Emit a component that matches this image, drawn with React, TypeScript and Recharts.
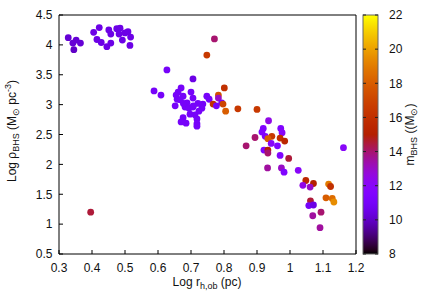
import { Scatter, ScatterChart, XAxis, YAxis } from "recharts";

// log r_h,ob (pc)
const logR = [
  0.328, 0.352, 0.342, 0.365, 0.345, 0.405, 0.422, 0.415, 0.428, 0.445, 0.457, 0.451, 0.457, 0.475, 0.485,
  0.482, 0.492, 0.5, 0.509, 0.517, 0.515,
  0.627, 0.706, 0.588, 0.609, 0.67, 0.661, 0.658, 0.676, 0.7, 0.706, 0.652, 0.688, 0.682, 0.706, 0.694,
  0.748, 0.755, 0.736, 0.733, 0.724, 0.712, 0.718, 0.718, 0.676, 0.67, 0.685, 0.718, 0.667, 0.655, 0.697,
  0.721, 0.707, 0.677,
  0.771, 0.748, 0.801, 0.783, 0.783, 0.793, 0.767, 0.777, 0.797, 0.805, 0.842, 0.9,
  0.935, 0.919, 0.915, 0.972, 0.976, 0.925, 0.945, 0.933, 0.97, 0.984, 0.894, 0.943, 0.962, 0.867, 0.921,
  0.933, 0.933, 0.97, 0.996, 1.162, 0.932, 0.974, 0.982, 1.025, 1.048, 1.071, 1.039, 1.061, 1.117, 1.123,
  1.062, 1.057, 1.071, 1.109, 1.128, 1.133, 1.094, 1.069, 1.091,
  0.396,
];

// log rho_BHS (Msun pc^-3)
const logRho = [
  4.12, 4.08, 4.03, 4.03, 3.92, 4.21, 4.29, 4.09, 4.04, 3.97, 4.03, 4.25, 4.18, 4.27, 4.28,
  4.18, 4.08, 4.2, 4.22, 4.13, 3.99,
  3.58, 3.43, 3.23, 3.16, 3.28, 3.21, 3.09, 3.14, 3.21, 3.11, 2.98, 3.03, 2.96, 2.96, 2.94,
  3.14, 3.09, 3.01, 2.94, 2.89, 2.83, 2.76, 2.68, 2.78, 2.71, 2.69, 2.64, 3.08, 3.16, 2.84,
  3.02, 2.98, 3.02,
  4.1, 3.83, 3.28, 3.16, 3.11, 3.03, 3.01, 2.98, 3.01, 2.89, 2.93, 2.92,
  2.73, 2.6, 2.54, 2.6, 2.53, 2.47, 2.47, 2.43, 2.44, 2.39, 2.45, 2.35, 2.31, 2.31, 2.24,
  2.24, 2.19, 2.15, 2.1, 2.28, 1.94, 1.94, 1.87, 1.9, 1.73, 1.68, 1.65, 1.62, 1.67, 1.63,
  1.39, 1.31, 1.32, 1.44, 1.43, 1.37, 1.2, 1.14, 0.94,
  1.2,
];

// m_BHS (Msun)
const mBHS = [
  10.2, 10.2, 10.2, 10.2, 10.0, 10.5, 10.5, 10.5, 10.5, 10.5, 10.5, 10.5, 10.5, 10.5, 10.5,
  10.5, 10.5, 10.5, 10.5, 10.5, 10.5,
  11, 10.5, 11, 11, 11, 11, 11, 11, 11, 11, 11, 11, 11, 11, 11,
  11, 11, 11, 11, 11, 11, 11, 11, 11, 11, 11, 11, 11, 11, 11,
  11, 11, 11,
  14, 16.5, 16, 17.5, 13, 11, 16, 11, 17, 18, 16.5, 16.5,
  12.5, 11.5, 11.5, 11.5, 12, 11.5, 16.5, 18, 16, 15.5, 14, 12, 11.5, 14, 11.5,
  15, 14, 11.5, 14.5, 12, 13.5, 13, 11.5, 12, 15.5, 15, 12.5, 13, 19, 16,
  14.5, 11, 10.5, 18, 18.5, 19.5, 14, 13.5, 13.5,
  14.5,
];

const xTicks = [0.3, 0.4, 0.5, 0.6, 0.7, 0.8, 0.9, 1, 1.1, 1.2];
const yTicks = [0.5, 1, 1.5, 2, 2.5, 3, 3.5, 4, 4.5];
const cbTicks = [8, 10, 12, 14, 16, 18, 20, 22];

const points = logR.map((x, i) => ({ x, y: logRho[i], m: mBHS[i] }));

// gnuplot default palette (rgbformulae 7,5,15) over cbrange [8:22]
const CB_MIN = 8;
const CB_MAX = 22;
function palette(m: number) {
  const f = Math.min(1, Math.max(0, (m - CB_MIN) / (CB_MAX - CB_MIN)));
  const r = Math.sqrt(f);
  const g = f * f * f;
  const b = Math.max(0, Math.sin(2 * Math.PI * f));
  return `rgb(${Math.round(r * 255)},${Math.round(g * 255)},${Math.round(b * 255)})`;
}

const W = 436;
const H = 305;
const FONT = "'Liberation Sans', Arial, sans-serif";
const tickStyle = { fill: "#111", fontSize: 12, fontFamily: FONT };

// colour box geometry
const CB = { x: 363, y: 15, w: 15, h: 239 };
const cbY = (v: number) => CB.y + CB.h - ((v - CB_MIN) / (CB_MAX - CB_MIN)) * CB.h;

function ColorBox() {
  // stops must go top (22) -> bottom (8), offsets increasing
  const stops = [];
  for (let v = CB_MAX; v >= CB_MIN; v -= 0.25) {
    stops.push(
      <stop key={v} offset={((CB_MAX - v) / (CB_MAX - CB_MIN)).toFixed(4)} stopColor={palette(v)} />
    );
  }
  return (
    <g>
      <defs>
        <linearGradient id="cbgrad" x1="0" y1="0" x2="0" y2="1">
          {stops}
        </linearGradient>
      </defs>
      <rect x={CB.x} y={CB.y} width={CB.w} height={CB.h} fill="url(#cbgrad)" stroke="#666" strokeWidth={1} />
      {cbTicks.map((t) => (
        <g key={t}>
          <line x1={CB.x} x2={CB.x + 3} y1={cbY(t)} y2={cbY(t)} stroke="#222" strokeWidth={1} />
          <line x1={CB.x + CB.w - 3} x2={CB.x + CB.w} y1={cbY(t)} y2={cbY(t)} stroke="#222" strokeWidth={1} />
          <text x={389} y={cbY(t)} dy="0.36em" fontSize={12} fontFamily={FONT} fill="#111">
            {t}
          </text>
        </g>
      ))}
      <text
        transform={`translate(414,134.5) rotate(-90)`}
        textAnchor="middle"
        fontSize={12}
        fontFamily={FONT}
        fill="#111"
      >
        m
        <tspan fontSize={9} dy={3}>BHS</tspan>
        <tspan dy={-3}> ((M</tspan>
        <tspan fontSize={9} dy={3}>⊙</tspan>
        <tspan dy={-3}>)</tspan>
      </text>
    </g>
  );
}

function AxisLabels() {
  return (
    <g fontFamily={FONT} fontSize={12} fill="#111">
      <text x={207} y={286} textAnchor="middle">
        Log r<tspan fontSize={9} dy={3}>h,ob</tspan>
        <tspan dy={-3}> (pc)</tspan>
      </text>
      <text transform="translate(15.5,131) rotate(-90)" textAnchor="middle">
        Log ρ<tspan fontSize={9} dy={3}>BHS</tspan>
        <tspan dy={-3}> (M</tspan>
        <tspan fontSize={9} dy={3}>⊙</tspan>
        <tspan dy={-3}> pc</tspan>
        <tspan fontSize={9} dy={-5}>-3</tspan>
        <tspan dy={5}>)</tspan>
      </text>
    </g>
  );
}

export default function App() {
  return (
    <div style={{ position: "absolute", left: 0, top: 0, width: W, height: H, background: "#fff" }}>
      <ScatterChart width={W} height={H} margin={{ top: 0, right: 0, bottom: 0, left: 0 }}>
        <XAxis
          xAxisId="b"
          type="number"
          dataKey="x"
          domain={[0.3, 1.2]}
          ticks={xTicks}
          interval={0}
          height={51}
          stroke="#000"
          tickSize={-4}
          tickMargin={13}
          tick={tickStyle}
        />
        <XAxis
          xAxisId="t"
          orientation="top"
          type="number"
          dataKey="x"
          domain={[0.3, 1.2]}
          ticks={xTicks}
          interval={0}
          height={15}
          stroke="#000"
          tickSize={-4}
          tick={false}
        />
        <YAxis
          yAxisId="l"
          type="number"
          dataKey="y"
          domain={[0.5, 4.5]}
          ticks={yTicks}
          interval={0}
          width={59}
          stroke="#000"
          tickSize={-4}
          tickMargin={10.5}
          tick={tickStyle}
        />
        <YAxis
          yAxisId="r"
          orientation="right"
          type="number"
          dataKey="y"
          domain={[0.5, 4.5]}
          ticks={yTicks}
          interval={0}
          width={80}
          stroke="#000"
          tickSize={-4}
          tick={false}
        />
        <Scatter
          data={points}
          xAxisId="b"
          yAxisId="l"
          isAnimationActive={false}
          shape={(p: any) => <circle cx={p.cx} cy={p.cy} r={3.4} fill={palette(p.payload.m)} />}
        />
        <Scatter
          data={points}
          xAxisId="t"
          yAxisId="r"
          isAnimationActive={false}
          shape={() => <g />}
        />
      </ScatterChart>
      <svg width={W} height={H} style={{ position: "absolute", left: 0, top: 0, pointerEvents: "none" }}>
        <ColorBox />
        <AxisLabels />
      </svg>
    </div>
  );
}
